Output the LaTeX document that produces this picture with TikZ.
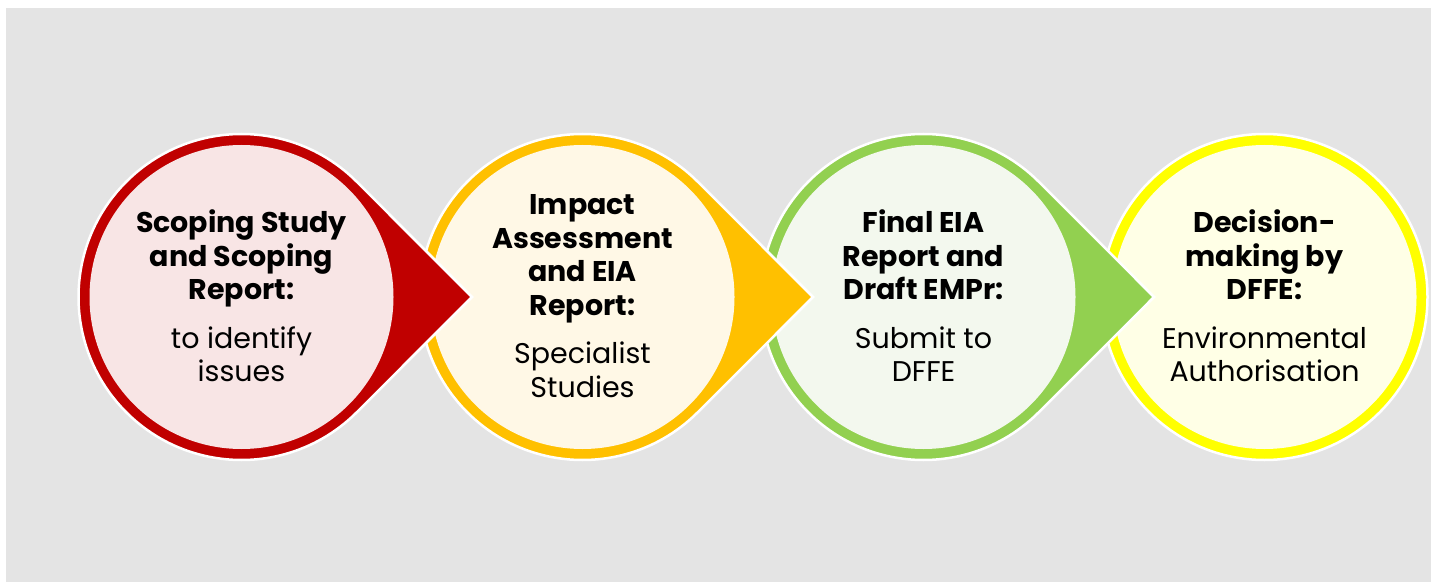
\documentclass[tikz,border=0pt]{standalone}
\usepackage{fontspec}
\setmainfont{Poppins}
\usetikzlibrary{calc}
\definecolor{bggray}{HTML}{E4E4E4}
\definecolor{cred}{HTML}{C00000}
\definecolor{fred}{HTML}{F8E5E5}
\definecolor{corange}{HTML}{FFC000}
\definecolor{forange}{HTML}{FFF8E6}
\definecolor{cgreen}{HTML}{92D050}
\definecolor{fgreen}{HTML}{F3F8EE}
\definecolor{cyellow}{HTML}{FFFF00}
\definecolor{fyellow}{HTML}{FFFFE6}
\tikzset{
  outer/.style={draw=white, line width=2.5pt, line join=miter},
  label text/.style={align=center, font=\fontsize{28.5}{33.5}\selectfont, text=black, inner sep=0pt},
}
\newcommand{\Rout}{163}
\newcommand{\Rin}{152}
\begin{document}
\begin{tikzpicture}[x=1pt,y=1pt]
\useasboundingbox (0,0) rectangle (1437,582);
\fill[bggray] (6,0) rectangle (1431,574);
\coordinate (c1) at (241.5,285);
\coordinate (c2) at (582.5,285);
\coordinate (c3) at (923.5,285);
\coordinate (c4) at (1264.5,285);
% circle 4
\path[outer, fill=cyellow] (c4) circle[radius=\Rout];
\fill[fyellow] (c4) circle[radius=\Rin];
% circle 3
\path[outer, fill=cgreen] (c3) +(45:\Rout) arc[start angle=45, end angle=315, radius=\Rout] -- ($(c3)+(230.5,0)$) -- cycle;
\fill[fgreen] (c3) circle[radius=\Rin];
% circle 2
\path[outer, fill=corange] (c2) +(45:\Rout) arc[start angle=45, end angle=315, radius=\Rout] -- ($(c2)+(230.5,0)$) -- cycle;
\fill[forange] (c2) circle[radius=\Rin];
% circle 1
\path[outer, fill=cred] (c1) +(45:\Rout) arc[start angle=45, end angle=315, radius=\Rout] -- ($(c1)+(230.5,0)$) -- cycle;
\fill[fred] (c1) circle[radius=\Rin];
% texts
\node[label text] (t1) at ($(c1)+(0,1)$) {\textbf{Scoping Study}\\\textbf{and Scoping}\\\textbf{Report:}\\[15pt]to identify\\issues};
\node[label text] (t2) at ($(c2)+(0,1)$) {\textbf{Impact}\\\textbf{Assessment}\\\textbf{and EIA}\\\textbf{Report:}\\[15pt]Specialist\\Studies};
\node[label text] (t3) at ($(c3)+(0,1)$) {\textbf{Final EIA}\\\textbf{Report and}\\\textbf{Draft EMPr:}\\[15pt]Submit to\\DFFE};
\node[label text] (t4) at ($(c4)+(0,1)$) {\textbf{Decision-}\\\textbf{making by}\\\textbf{DFFE:}\\[15pt]Environmental\\Authorisation};
\end{tikzpicture}
\end{document}
